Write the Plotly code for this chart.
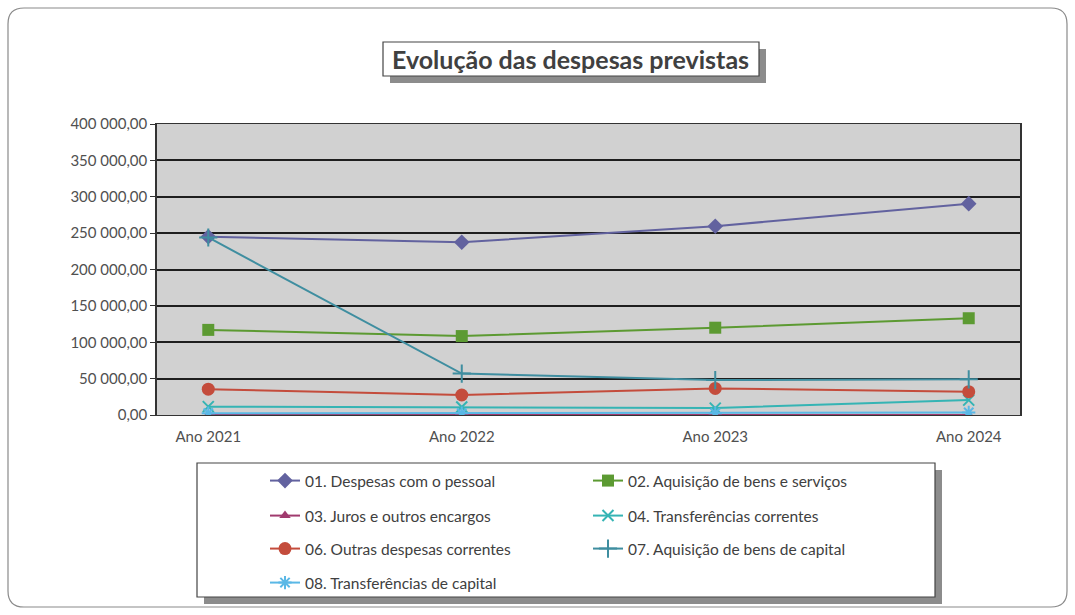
import plotly.graph_objects as go

years = ["Ano 2021", "Ano 2022", "Ano 2023", "Ano 2024"]

pessoal = [245000, 237500, 259500, 290500]
bens_servicos = [117000, 108500, 120000, 133000]
juros = [0, 0, 0, 0]
transf_correntes = [11500, 11000, 9500, 20500]
outras_correntes = [35500, 27500, 36500, 32000]
bens_capital = [244000, 57000, 48000, 49000]
transf_capital = [2500, 2500, 2500, 3500]

series = [
    ("01. Despesas com o pessoal", pessoal, "#62629f", "diamond", 12, "legend"),
    ("02. Aquisição de bens e serviços", bens_servicos, "#5c9a32", "square", 12, "legend"),
    ("03. Juros e outros encargos", juros, "#a03a6e", "triangle-up", 10, "legend2"),
    ("04. Transferências correntes", transf_correntes, "#35b4b4", "x-thin-open", 11, "legend2"),
    ("06. Outras despesas correntes", outras_correntes, "#c44c3c", "circle", 13, "legend3"),
    ("07. Aquisição de bens de capital", bens_capital, "#3f8ea0", "cross-thin-open", 13, "legend3"),
    ("08. Transferências de capital", transf_capital, "#5ab8e6", "asterisk-open", 11, "legend4"),
]

# figure fills the page exactly (body margin removed and page clipped below)
W, H = 1075, 615
L, R, T, B = 157, 1020, 124, 415


def px(x):
    return (x - L) / (R - L)


def py(y):
    return (B - y) / (B - T)


fig = go.Figure()
for name, vals, color, symbol, size, leg in series:
    open_sym = symbol.endswith("open")
    fig.add_trace(go.Scatter(
        x=years, y=vals, name=name, mode="lines+markers", legend=leg,
        line=dict(color=color, width=2),
        marker=dict(symbol=symbol, size=size, color=color,
                    line=dict(color=color, width=2 if open_sym else 0)),
    ))

font = "Lato, 'Open Sans', sans-serif"
legend_style = dict(orientation="h", xanchor="left", yanchor="top", entrywidth=278,
                    bgcolor="rgba(0,0,0,0)", borderwidth=0,
                    font=dict(family=font, size=15.5, color="#404040"))

x0, y0, x1, y1 = 8, 8, 1067, 607
shapes = [
    # outer rounded border
    dict(type="path", xref="paper", yref="paper", layer="below",
         path=(f"M {px(x0+16)},{py(y0)} L {px(x1-16)},{py(y0)} Q {px(x1)},{py(y0)} {px(x1)},{py(y0+16)} "
               f"L {px(x1)},{py(y1-16)} Q {px(x1)},{py(y1)} {px(x1-16)},{py(y1)} "
               f"L {px(x0+16)},{py(y1)} Q {px(x0)},{py(y1)} {px(x0)},{py(y1-16)} "
               f"L {px(x0)},{py(y0+16)} Q {px(x0)},{py(y0)} {px(x0+16)},{py(y0)} Z"),
         line=dict(color="#8a8a8a", width=1.2)),
    # title shadow + box
    dict(type="rect", xref="paper", yref="paper", x0=px(390), x1=px(766), y0=py(49), y1=py(83),
         fillcolor="#8c8c8c", line=dict(width=0)),
    dict(type="rect", xref="paper", yref="paper", x0=px(383), x1=px(759), y0=py(42), y1=py(76),
         fillcolor="white", line=dict(color="#444444", width=1.2)),
    # legend shadow + box
    dict(type="rect", xref="paper", yref="paper", x0=px(204), x1=px(942), y0=py(470), y1=py(604),
         fillcolor="#8c8c8c", line=dict(width=0), layer="below"),
    dict(type="rect", xref="paper", yref="paper", x0=px(197), x1=px(935), y0=py(463), y1=py(597),
         fillcolor="white", line=dict(color="#444444", width=1.2), layer="below"),
]

fig.update_layout(
    width=W, height=H,
    margin=dict(l=L, r=W - R, t=T, b=H - B),
    paper_bgcolor="white", plot_bgcolor="#d1d1d1",
    separators=", ",
    font=dict(family=font, size=15, color="#505050"),
    showlegend=True,
    legend=dict(x=px(265), y=py(464), **legend_style),
    legend2=dict(x=px(265), y=py(499), **legend_style),
    legend3=dict(x=px(265), y=py(532), **legend_style),
    legend4=dict(x=px(265), y=py(566), **legend_style),
    shapes=shapes,
    annotations=[dict(text="<b>Evolução das despesas previstas</b>", xref="paper", yref="paper",
                      x=px(570), y=py(59), xanchor="center", yanchor="middle", showarrow=False,
                      font=dict(family=font, size=25, color="#404040"))],
    xaxis=dict(showgrid=False, showline=True, linecolor="#333333", mirror=True,
               ticks="outside", ticklen=8, tickcolor="rgba(0,0,0,0)",
               tickfont=dict(size=15, color="#505050")),
    yaxis=dict(range=[0, 400000], dtick=50000, tickformat=",.2f", showgrid=True,
               gridcolor="#1e1e1e", gridwidth=1.5, showline=True, linecolor="#333333",
               linewidth=1.5, mirror=True, zeroline=False, ticks="outside", ticklen=5,
               tickcolor="#333333", tickfont=dict(size=15, color="#505050")),
)

page_css = ("document.documentElement.style.overflow = 'hidden';"
            "document.documentElement.style.height = '615px';"
            "document.body.style.margin = '0';"
            "document.body.style.height = '615px';"
            "document.body.style.overflow = 'hidden';")
fig.write_html("out.html", config={"displayModeBar": False}, post_script=page_css)
